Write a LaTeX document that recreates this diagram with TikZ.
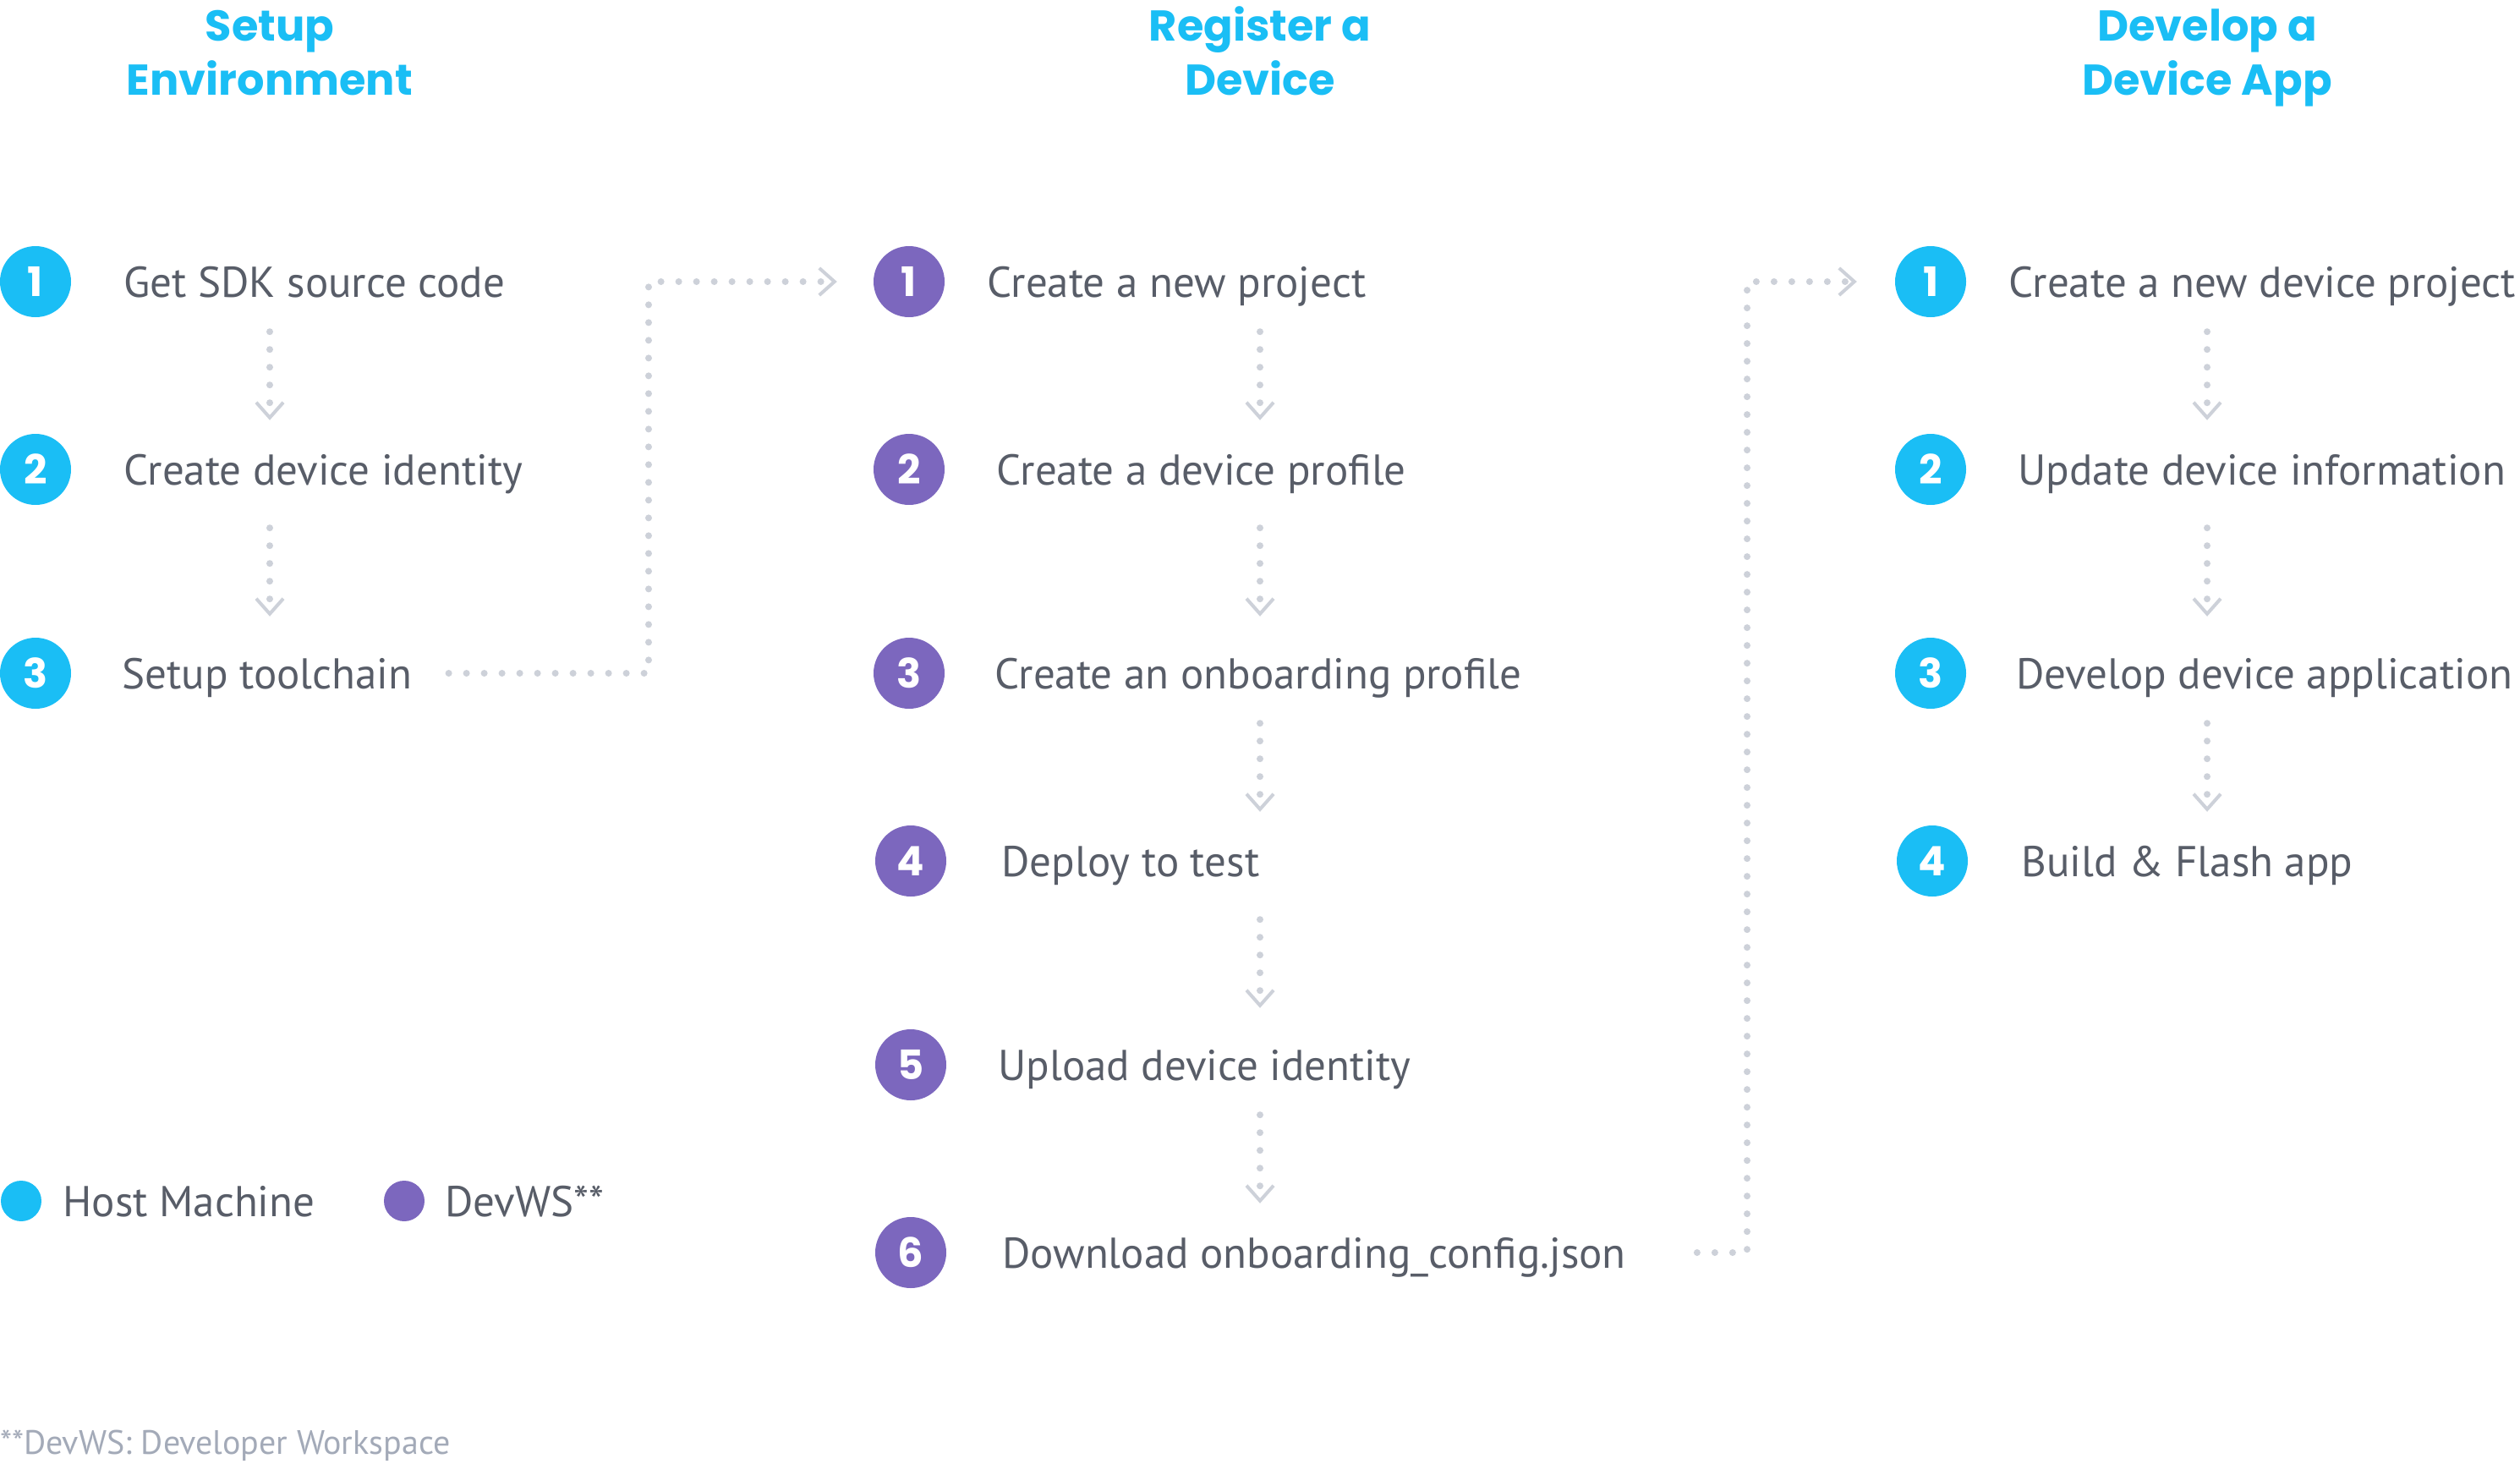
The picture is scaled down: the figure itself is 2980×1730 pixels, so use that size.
\documentclass[tikz,border=0pt]{standalone}
\usepackage{fontspec}
\setmainfont{PT Sans}
\newfontfamily\headfont{Poppins}
\usepackage{tikz}
\usetikzlibrary{positioning,arrows.meta}
\definecolor{hostblue}{RGB}{26,190,245}
\definecolor{devpurple}{RGB}{124,103,190}
\definecolor{labelgray}{RGB}{88,93,104}
\definecolor{dotgray}{RGB}{205,209,217}
\definecolor{notegray}{RGB}{163,170,184}
\tikzstyle{heading} = [anchor=north, align=center, inner sep=0pt, text=hostblue, font=\headfont\bfseries\fontsize{51}{64}\selectfont]
\tikzstyle{host} = [circle, fill=hostblue, minimum size=84pt, inner sep=0pt, text=white, font=\headfont\bfseries\fontsize{48}{48}\selectfont]
\tikzstyle{devws} = [host, fill=devpurple]
\tikzstyle{task} = [inner sep=0pt, text height=36pt, text depth=0pt, text=labelgray, font=\fontsize{51}{61}\selectfont]
\tikzstyle{legenddot} = [circle, minimum size=48pt, inner sep=0pt]
\tikzstyle{flow} = [draw=dotgray, line width=8pt, line cap=round, dash pattern=on 0pt off 21pt, -{Straight Barb[length=18pt, width=32pt, line width=4pt]}, shorten <=17pt, shorten >=16pt]

\begin{document}
\begin{tikzpicture}[x=1pt, y=1pt, node distance=222pt]
          \useasboundingbox (0,0) rectangle (2980,-1730);
          \node (head1) [heading] at (319,-3) {\strut Setup\\Environment};
          \node (head2) [heading] at (1490,-3) {\strut Register a\\Device};
          \node (head3) [heading] at (2610,-3) {\strut Develop a\\Device App};
          % setup environment
          \node (c11) [host] at (42,-333) {1};
          \node (c12) [host, below of=c11] {2};
          \node (c13) [host, below of=c12, yshift=-19pt] {3};
          \node (t11) [task, right=62pt of c11] {Get SDK source code};
          \node (t12) [task, right=62pt of c12] {Create device identity};
          \node (t13) [task, right=60pt of c13] {Setup toolchain};
          % register a device
          \node (c21) [devws] at (1075,-333) {1};
          \node (c22) [devws, below of=c21] {2};
          \node (c23) [devws, below of=c22, yshift=-19pt] {3};
          \node (c24) [devws, below of=c23, xshift=2pt] {4};
          \node (c25) [devws, below of=c24, yshift=-19pt] {5};
          \node (c26) [devws, below of=c25] {6};
          \node (t21) [task, right=50pt of c21] {Create a new project};
          \node (t22) [task, right=61pt of c22] {Create a device profile};
          \node (t23) [task, right=59pt of c23] {Create an onboarding profile};
          \node (t24) [task, right=65pt of c24] {Deploy to test};
          \node (t25) [task, right=61pt of c25] {Upload device identity};
          \node (t26) [task, right=66pt of c26] {Download onboarding\_config.json};
          % develop a device app
          \node (c31) [host] at (2283,-333) {1};
          \node (c32) [host, below of=c31] {2};
          \node (c33) [host, below of=c32, yshift=-19pt] {3};
          \node (c34) [host, below of=c33, xshift=2pt] {4};
          \node (t31) [task, right=50pt of c31] {Create a new device project};
          \node (t32) [task, right=61pt of c32] {Update device information};
          \node (t33) [task, right=59pt of c33] {Develop device application};
          \node (t34) [task, right=63pt of c34] {Build \& Flash app};
          % legend
          \node (hostdot) [legenddot, fill=hostblue] at (25,-1420) {};
          \node (hostlbl) [task, right=25pt of hostdot] {Host Machine};
          \node (devdot) [legenddot, fill=devpurple] at (478,-1420) {};
          \node (devlbl) [task, right=24pt of devdot] {DevWS**};
          \node (note) [anchor=base west, inner sep=0pt, text=notegray, font=\fontsize{40}{45}\selectfont] at (0,-1719) {**DevWS: Developer Workspace};
          % flows
          \draw [flow] (head1 |- c11.south) -- (head1 |- c12.north);
          \draw [flow, shorten <=27pt, shorten >=25pt] (head1 |- c12.south) -- (head1 |- c13.north);
          \draw [flow] (head2 |- c21.south) -- (head2 |- c22.north);
          \draw [flow, shorten <=27pt, shorten >=25pt] (head2 |- c22.south) -- (head2 |- c23.north);
          \draw [flow] (head2 |- c23.south) -- (head2 |- c24.north);
          \draw [flow, shorten <=27pt, shorten >=25pt] (head2 |- c24.south) -- (head2 |- c25.north);
          \draw [flow] (head2 |- c25.south) -- (head2 |- c26.north);
          \draw [flow] (head3 |- c31.south) -- (head3 |- c32.north);
          \draw [flow, shorten <=27pt, shorten >=25pt] (head3 |- c32.south) -- (head3 |- c33.north);
          \draw [flow] (head3 |- c33.south) -- (head3 |- c34.north);
          \coordinate (bend1) at (767,-333);
          \coordinate (bend2) at (2066,-333);
          \draw [flow, shorten <=43pt, shorten >=43pt] (t13.east) -| (bend1) -- (c21.west);
          \draw [flow, shorten <=84pt, shorten >=45pt] (t26.east) -| (bend2) -- (c31.west);
        \end{tikzpicture}
\end{document}
